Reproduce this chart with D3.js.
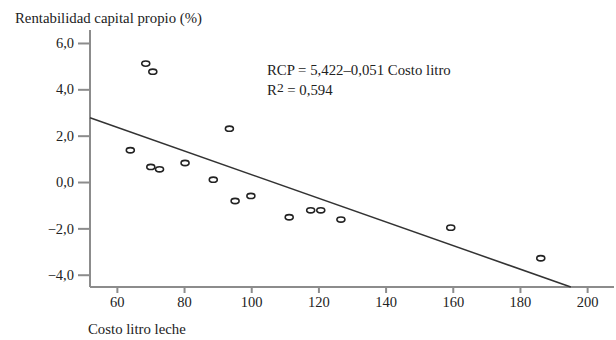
<!DOCTYPE html>
<html><head><meta charset="utf-8">
<script src="https://cdn.jsdelivr.net/npm/d3@7"></script>
<style>body{margin:0;background:#fff}svg{display:block}text{font-family:"Liberation Serif","Times New Roman",serif;fill:#222}</style>
</head><body>
<script>
const costo = [68.6,70.7,64.0,93.5,70.1,72.7,80.3,88.7,95.2,99.9,111.3,117.7,120.7,126.7,159.4,186.2];
const rcp   = [5.11,4.76,1.37,2.30,0.65,0.55,0.82,0.10,-0.82,-0.60,-1.52,-1.22,-1.22,-1.62,-1.97,-3.29];
const xTicks = [60,80,100,120,140,160,180,200];
const yTicks = [6,4,2,0,-2,-4];
const fit = {intercept:5.422, slope:-0.051};
const yTitle = "Rentabilidad capital propio (%)";
const xTitle = "Costo litro leche";
const eq1 = "RCP = 5,422–0,051 Costo litro";
const eq2 = ["R", "2", " = 0,594"];

const W=616,H=340;
const FS="14.8px";
const svg=d3.select("body").append("svg").attr("width",W).attr("height",H);
const x=d3.scaleLinear().domain([52,208]).range([90,614]);
const y=d3.scaleLinear().domain([-4.53,6.56]).range([287,30]);
const fmt=d=>d3.format(".1f")(d).replace(".",",").replace("-","−");

const axc="#8c8c8c";
const ya=svg.append("g").attr("transform","translate(90,0)")
  .call(d3.axisLeft(y).tickValues(yTicks).tickFormat(fmt).tickSize(12).tickPadding(4));
const xa=svg.append("g").attr("transform","translate(0,287)")
  .call(d3.axisBottom(x).tickValues(xTicks).tickFormat(d3.format("d")).tickSize(6).tickPadding(4));
[ya,xa].forEach(g=>{
  g.select(".domain").attr("stroke",axc).attr("stroke-width",2);
  g.selectAll(".tick line").attr("stroke",axc).attr("stroke-width",2);
  g.selectAll(".tick text").style("font-family",'"Liberation Serif",serif').style("font-size","14.5px").attr("fill","#222");
});
ya.select(".domain").attr("d",`M0,${y.range()[1]}V${y.range()[0]}`);
xa.select(".domain").attr("d",`M${x.range()[0]},0H${x.range()[1]}`);

const x0=52, yBottom=y.domain()[0];
const x1=(yBottom-fit.intercept)/fit.slope;
svg.append("line")
  .attr("x1",x(x0)).attr("y1",y(fit.intercept+fit.slope*x0))
  .attr("x2",x(x1)).attr("y2",y(fit.intercept+fit.slope*x1))
  .attr("stroke","#333").attr("stroke-width",1.5);

svg.append("g").selectAll("ellipse").data(costo.map((c,i)=>[c,rcp[i]])).join("ellipse")
  .attr("cx",d=>x(d[0])).attr("cy",d=>y(d[1])).attr("rx",4).attr("ry",2.6)
  .attr("fill","none").attr("stroke","#222").attr("stroke-width",1.6);

svg.append("text").attr("x",15).attr("y",23).style("font-size",FS).text(yTitle);
svg.append("text").attr("x",88).attr("y",334).style("font-size",FS).text(xTitle);

svg.append("text").attr("x",267).attr("y",75).style("font-size",FS).text(eq1);
const t2=svg.append("text").attr("x",267).attr("y",95).style("font-size",FS);
t2.append("tspan").text(eq2[0]);
t2.append("tspan").attr("dy",-3).style("font-size","13.5px").text(eq2[1]);
t2.append("tspan").attr("dy",3).text(eq2[2]);
</script>
</body></html>
